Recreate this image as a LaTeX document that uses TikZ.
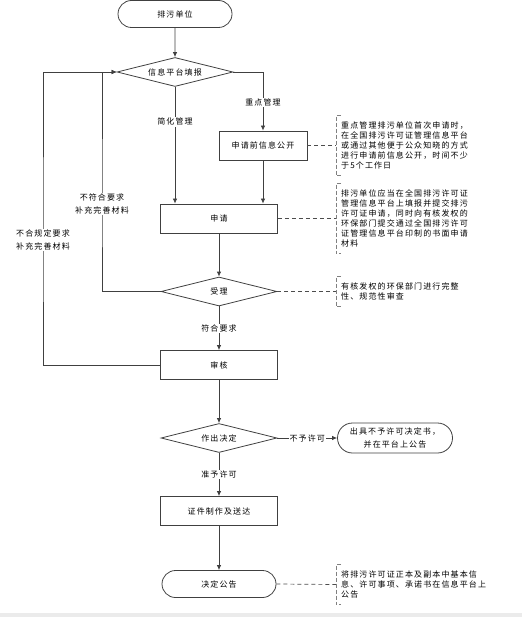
\documentclass[tikz,border=0pt]{standalone}
\usepackage{fontspec}
\setmainfont[LetterSpace=14]{Noto Sans CJK SC}
\usetikzlibrary{shapes}
\usetikzlibrary{arrows.meta}
\tikzset{
    flow/.style = {-{Latex[length=5pt,width=4.5pt]},line width=0.8pt,draw=black!75},
    dashline/.style = {line width=0.7pt,draw=black!70,dash pattern=on 4pt off 3pt},
    bracket/.style = {line width=0.7pt,draw=black!50,dash pattern=on 4pt off 2pt},
    termnode/.style = {rounded rectangle, line width=0.8pt, draw=black!75, minimum width=116pt, minimum height=27pt, inner sep=1pt},
    boxnode/.style = {rectangle, line width=0.8pt, draw=black!75, minimum width=117pt, minimum height=29pt},
    decnode/.style = {diamond, aspect=4, line width=0.8pt, draw=black!75, minimum width=116pt, minimum height=29pt, inner sep=0pt},
    lbl/.style = {fill=white, inner sep=1pt, align=center, font=\fontsize{8}{13}\selectfont},
    note/.style = {anchor=west, align=left, inner xsep=5pt, inner ysep=6pt, font=\fontsize{8}{10}\selectfont}
}
\begin{document}
\begin{tikzpicture}[x=1pt,y=-1pt,font=\fontsize{8}{10}\selectfont]
  \useasboundingbox (0,0) rectangle (522,617);
  \fill[black!8] (0,613) rectangle (522,617);

  \node[termnode] at (175,14) (unit) {排污单位};
  \node[decnode] at (175,72) (report) {信息平台填报};
  \node[boxnode, minimum width=88pt] at (263,145.5) (pub) {申请前信息公开};
  \node[boxnode] at (219,218.5) (apply) {申请};
  \node[decnode] at (219,291.5) (accept) {受理};
  \node[boxnode] at (219,365) (audit) {审核};
  \node[decnode] at (219,438) (decide) {作出决定};
  \node[termnode, minimum width=117pt, minimum height=30pt, align=center, font=\fontsize{8}{13}\selectfont] at (395,438) (refuse) {出具不予许可决定书，\\并在平台上公告};
  \node[boxnode] at (219,511) (cert) {证件制作及送达};
  \node[termnode] at (219,584) (notice) {决定公告};

  \draw[flow] (unit) -- (report);
  \draw[flow] (report.east) -| node[lbl,pos=0.76] {重点管理} (pub.north);
  \draw[flow] (report.south) -- node[lbl,pos=0.3] {简化管理} (report.south |- apply.north);
  \draw[flow] (pub.south) -- (pub.south |- apply.north);
  \draw[flow] (apply) -- (accept);
  \draw[flow] (accept) -- node[lbl] {符合要求} (audit);
  \draw[flow] (audit) -- (decide);
  \draw[flow] (decide) -- node[lbl] {不予许可} (refuse);
  \draw[flow] (decide) -- node[lbl] {准予许可} (cert);
  \draw[flow] (cert) -- (notice);

  \coordinate (backout) at (43,240);
  \coordinate (backin) at (102,204);
  \draw[flow] (audit.west) -| (backout) |- (report.west);
  \draw[flow] (accept.west) -| (backin) |- (report.west);
  \node[lbl] at (backout) {不合规定要求\\补充完善材料};
  \node[lbl] at (backin) {不符合要求\\补充完善材料};

  \node[note] at (336,145.5) (note1) {重点管理排污单位首次申请时，\\在全国排污许可证管理信息平台\\或通过其他便于公众知晓的方式\\进行申请前信息公开，时间不少\\于5个工作日};
  \node[note] at (336,218.5) (note2) {排污单位应当在全国排污许可证\\管理信息平台上填报并提交排污\\许可证申请，同时向有核发权的\\环保部门提交通过全国排污许可\\证管理信息平台印制的书面申请\\材料};
  \node[note] at (336,291.5) (note3) {有核发权的环保部门进行完整\\性、规范性审查};
  \node[note] at (336,584.5) (note4) {将排污许可证正本及副本中基本信\\息、许可事项、承诺书在信息平台上\\公告};

  \draw[dashline] (pub.east) -- (note1.west);
  \draw[dashline] (apply.east) -- (note2.west);
  \draw[dashline] (accept.east) -- (note3.west);
  \draw[dashline] (notice.east) -- (note4.west);

  \draw[bracket] ([xshift=5pt]note1.north west) -- (note1.north west) -- (note1.south west) -- ([xshift=5pt]note1.south west);
  \draw[bracket] ([xshift=5pt]note2.north west) -- (note2.north west) -- (note2.south west) -- ([xshift=5pt]note2.south west);
  \draw[bracket] ([xshift=5pt]note3.north west) -- (note3.north west) -- (note3.south west) -- ([xshift=5pt]note3.south west);
  \draw[bracket] ([xshift=5pt]note4.north west) -- (note4.north west) -- (note4.south west) -- ([xshift=5pt]note4.south west);
\end{tikzpicture}
\end{document}
